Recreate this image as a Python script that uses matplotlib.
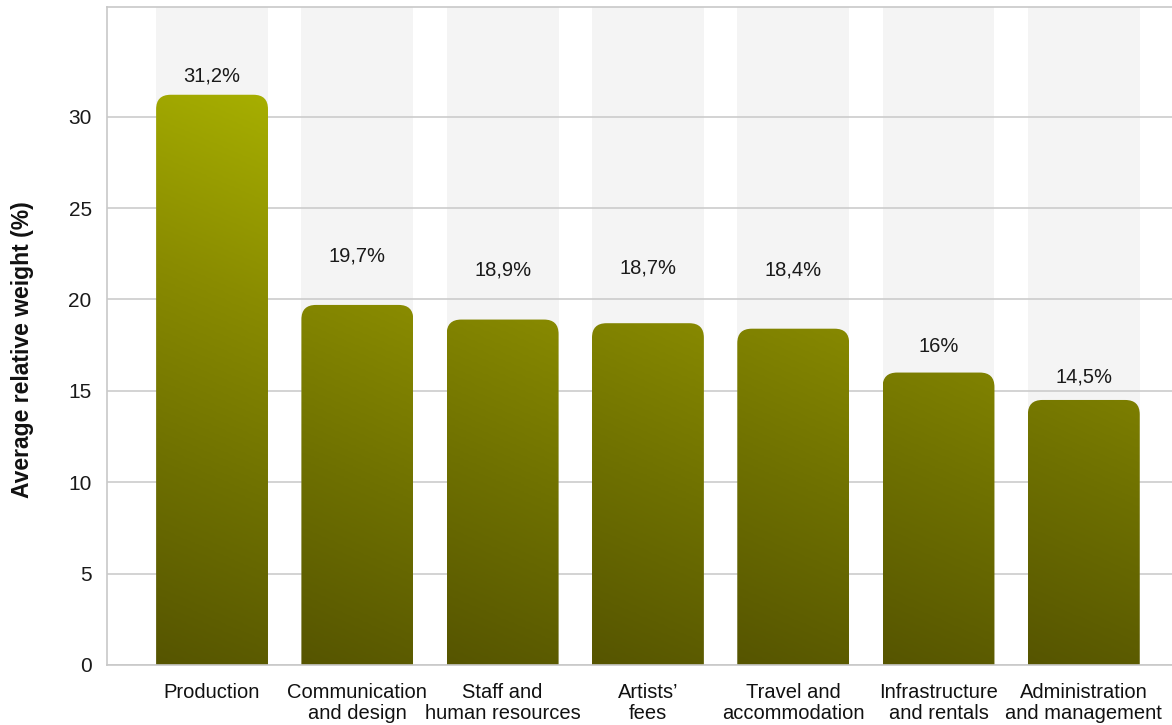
import matplotlib.pyplot as plt
from matplotlib.patches import FancyBboxPatch, Rectangle
from matplotlib.colors import LinearSegmentedColormap
import numpy as np

plt.rcParams['font.family'] = ['Liberation Sans', 'DejaVu Sans']

categories = ['Production', 'Communication\nand design', 'Staff and\nhuman resources',
              "Artists’\nfees", 'Travel and\naccommodation', 'Infrastructure\nand rentals',
              'Administration\nand management']
values = [31.2, 19.7, 18.9, 18.7, 18.4, 16.0, 14.5]
value_labels = ['31,2%', '19,7%', '18,9%', '18,7%', '18,4%', '16%', '14,5%']
# distance from bar top to the centre of its label, in data units
label_pad = [1.0, 2.7, 2.7, 3.0, 3.2, 1.45, 1.25]

fig = plt.figure(figsize=(11.72, 7.25), dpi=100)
ax = fig.add_axes([0.0913, 0.0828, 0.9087, 0.9075])
ymax = 36
ax.set_xlim(-0.723, 6.607)
ax.set_ylim(0, ymax)

x = np.arange(len(categories))
width = 0.77

# light background band behind each bar
for xi in x:
    ax.add_patch(Rectangle((xi - width / 2, 0), width, ymax, facecolor='#f4f4f4',
                           edgecolor='none', zorder=0))

ax.set_yticks([0, 5, 10, 15, 20, 25, 30])
ax.yaxis.grid(True, color='#cccccc', linewidth=1.2, zorder=1)
ax.set_axisbelow(True)
ax.tick_params(axis='y', length=0, pad=11, labelsize=15, labelcolor='#1a1a1a')
ax.tick_params(axis='x', length=0, pad=13, labelsize=14.5, labelcolor='#111111')
ax.set_xticks(x)
ax.set_xticklabels(categories, linespacing=1.15)
for lab in ax.get_xticklabels():
    lab.set_horizontalalignment('center')
for s in ['left', 'top', 'bottom']:
    ax.spines[s].set_color('#c8c8c8')
    ax.spines[s].set_linewidth(1.2)
ax.spines['right'].set_visible(False)
ax.set_ylabel('Average relative weight (%)', fontsize=16.5, fontweight='bold',
              color='#111111')
ax.yaxis.set_label_coords(-0.069, 0.479)

# olive gradient, darker at the bottom
cmap = LinearSegmentedColormap.from_list('olive', ['#565500', '#6e7000', '#8a8c00', '#a6ae00'])
bars = ax.bar(x, values, width=width, color='none', edgecolor='none')
for rect, v in zip(bars, values):
    x0 = rect.get_x()
    w = rect.get_width()
    patch = FancyBboxPatch((x0, -3), w, v + 3,
                           boxstyle='round,pad=0,rounding_size=0.1',
                           mutation_aspect=7.9, facecolor='none', edgecolor='none',
                           zorder=2)
    ax.add_patch(patch)
    ny, nx = 200, 40
    yy = np.linspace(0, v, ny)[:, None]
    xx = np.linspace(0, 1, nx)[None, :]
    grad = yy / 32.0 + 0.08 * xx
    im = ax.imshow(grad, cmap=cmap, vmin=0, vmax=1.05, origin='lower', aspect='auto',
                   extent=(x0, x0 + w, 0, v), zorder=2, interpolation='bilinear')
    im.set_clip_path(patch)

for xi, v, lab, p in zip(x, values, value_labels, label_pad):
    ax.text(xi, v + p, lab, ha='center', va='center', fontsize=14.5, color='#1a1a1a')

ax.set_xlim(-0.723, 6.607)
ax.set_ylim(0, ymax)

fig.savefig('out.png', dpi=100, facecolor='white')
